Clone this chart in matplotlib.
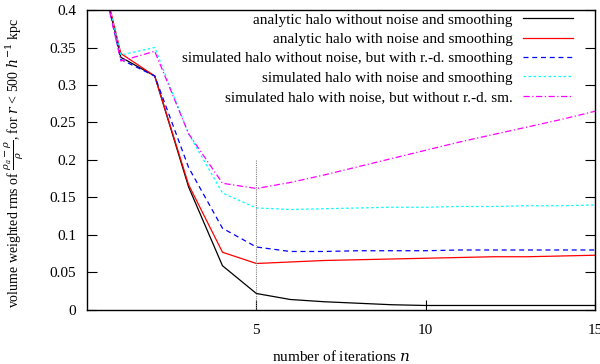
import matplotlib
matplotlib.use("Agg")
import matplotlib.pyplot as plt

n = list(range(0, 16))
analytic_clean = [0.53, 0.337, 0.312, 0.164, 0.059, 0.022, 0.014, 0.011, 0.009, 0.007, 0.006, 0.006, 0.006, 0.006, 0.006, 0.006]
analytic_noise = [0.53, 0.342, 0.312, 0.167, 0.077, 0.062, 0.064, 0.066, 0.067, 0.068, 0.069, 0.070, 0.071, 0.071, 0.072, 0.073]
sim_rd = [0.53, 0.334, 0.312, 0.190, 0.109, 0.084, 0.078, 0.078, 0.079, 0.079, 0.079, 0.080, 0.080, 0.080, 0.080, 0.080]
sim_noise_sm = [0.53, 0.340, 0.350, 0.235, 0.156, 0.136, 0.134, 0.135, 0.136, 0.137, 0.137, 0.138, 0.138, 0.139, 0.139, 0.140]
sim_noise_nosm = [0.53, 0.332, 0.345, 0.235, 0.169, 0.162, 0.170, 0.180, 0.191, 0.202, 0.213, 0.224, 0.234, 0.244, 0.254, 0.265]

labels = [
    "analytic halo without noise and smoothing",
    "analytic halo with noise and smoothing",
    "simulated halo without noise, but with r.-d. smoothing",
    "simulated halo with noise and smoothing",
    "simulated halo with noise, but without r.-d. sm.",
]

plt.rcParams['font.family'] = ['Liberation Serif', 'DejaVu Serif']
plt.rcParams['mathtext.fontset'] = 'dejavuserif'

fig = plt.figure(figsize=(6, 3.64), dpi=100)
ax = fig.add_axes([0.145, 0.1484, 0.8467, 0.8241])

ax.plot(n, analytic_clean, color='black', lw=0.9, label=labels[0])
ax.plot(n, analytic_noise, color='red', lw=0.9, label=labels[1])
ax.plot(n, sim_rd, color='blue', lw=0.9, ls=(0, (4, 3)), label=labels[2])
ax.plot(n, sim_noise_sm, color='cyan', lw=0.9, ls=(0, (2, 2)), label=labels[3])
ax.plot(n, sim_noise_nosm, color='magenta', lw=0.9, ls=(0, (5, 2, 1, 2)), label=labels[4])

ax.plot([5, 5], [0, 0.2], color='gray', lw=0.8, ls=(0, (1, 1)))

ax.set_xlim(0, 15)
ax.set_ylim(0, 0.4)
ax.set_xticks([5, 10, 15])
ax.set_yticks([0, 0.05, 0.1, 0.15, 0.2, 0.25, 0.3, 0.35, 0.4])
ax.set_yticklabels(['0', '0.05', '0.1', '0.15', '0.2', '0.25', '0.3', '0.35', '0.4'])
ax.tick_params(direction='in', right=True, top=False, length=7.5, labelsize=11)
ax.tick_params(axis='x', pad=10)
ax.tick_params(axis='y', pad=8)
for s in ax.spines.values():
    s.set_linewidth(1.0)

ax.set_xlabel(r"number of iterations $n$", fontsize=11, labelpad=9)
ax.set_ylabel(r"volume weighted rms of $\frac{\rho_a-\rho}{\rho}$, for $r$ < 500 $h^{-1}$ kpc", fontsize=10)
ax.yaxis.set_label_coords(-0.12, 0.49)

leg = ax.legend(loc='upper right', bbox_to_anchor=(0.957, 0.99), frameon=False, markerfirst=False,
                fontsize=11, handlelength=3.3, handletextpad=0.65, labelspacing=0.37,
                borderaxespad=0.0, borderpad=0.0)
for t in leg.get_texts():
    t.set_ha('right')
leg._legend_box.align = 'right'

fig.savefig('out.png', dpi=100)
